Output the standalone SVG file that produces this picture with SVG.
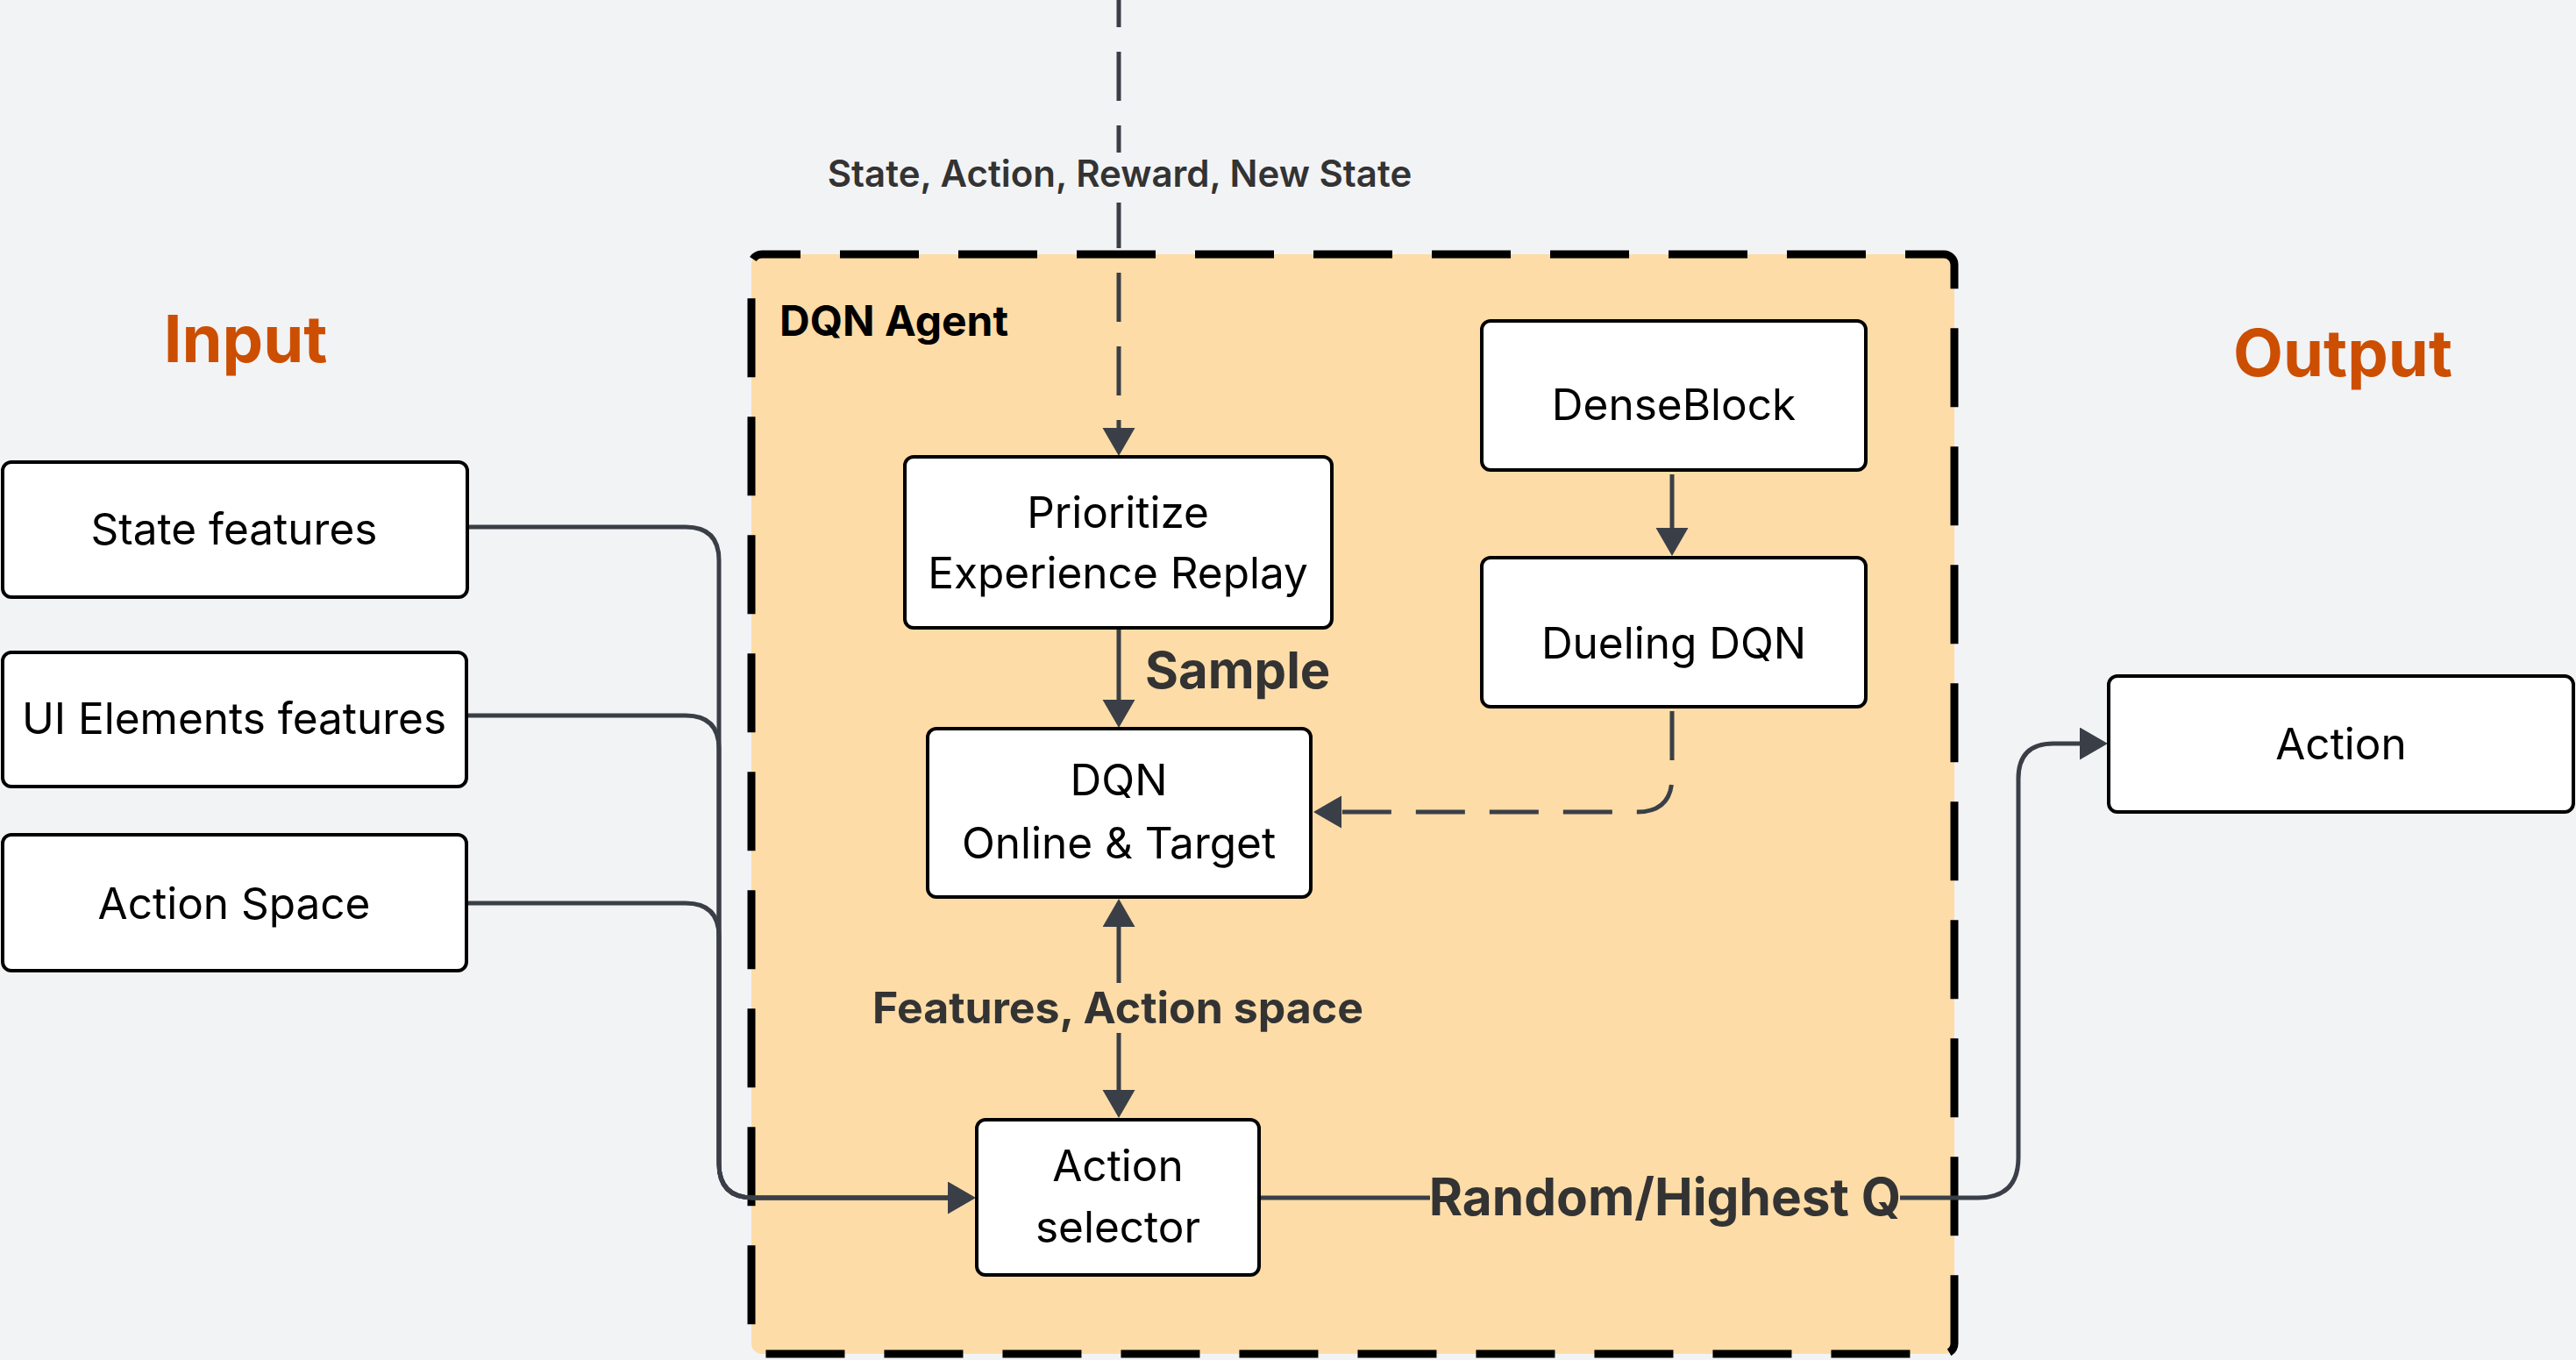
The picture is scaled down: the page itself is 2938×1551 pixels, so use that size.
<svg xmlns="http://www.w3.org/2000/svg" width="2938" height="1551" viewBox="0 0 2938 1551">
<style>
.node rect{fill:#ffffff;stroke:#000000;stroke-width:4}
.node text{font-family:Inter,"Noto Sans","Liberation Sans",sans-serif;font-size:49.5px;fill:#000;text-anchor:middle}
.conn{fill:none;stroke:#3a3f47;stroke-width:5}
.dash{stroke-dasharray:56 28}
.lbl{font-family:Inter,"Noto Sans","Liberation Sans",sans-serif;font-weight:700;fill:#333333}
.title{font-family:Inter,"Noto Sans","Liberation Sans",sans-serif;font-weight:700;font-size:74px;fill:#cc4e00;text-anchor:middle}
</style>
<defs>
<marker id="arr" markerUnits="userSpaceOnUse" markerWidth="33" markerHeight="38" refX="0" refY="18.5" orient="auto-start-reverse" viewBox="0 0 33 38">
<path d="M0 0 L32 18.5 L0 37 Z" fill="#3a3f47"/>
</marker>
</defs>
<rect x="0" y="0" width="2938" height="1551" fill="#f2f3f5"/>
<g id="dqn-agent">
<rect x="857" y="290" width="1372" height="1254" rx="12" fill="#fddca7" stroke="#000" stroke-width="9" stroke-dasharray="90 45" stroke-dashoffset="46"/>
<text x="889" y="383" font-family="Inter,'Noto Sans','Liberation Sans',sans-serif" font-weight="700" font-size="48" fill="#000">DQN Agent</text>
</g>
<g id="titles">
<text class="title" x="280" y="413">Input</text>
<text class="title" x="2672" y="429">Output</text>
</g>
<g id="connectors">
<path class="conn dash" d="M1276 -25 V488" marker-end="url(#arr)"/>
<rect x="925" y="174" width="704" height="57" fill="#f2f3f5"/>
<text class="lbl" x="1277" y="213" font-size="42" text-anchor="middle" style="font-weight:600">State, Action, Reward, New State</text>
<path class="conn" d="M1276 718 V798" marker-end="url(#arr)"/>
<text class="lbl" x="1306" y="785" font-size="58">Sample</text>
<path class="conn" d="M1907 541 V602" marker-end="url(#arr)"/>
<path class="conn dash" d="M1907 811 V886 Q1907 926 1867 926 H1530" marker-end="url(#arr)"/>
<path class="conn" d="M1276 1057 V1243" marker-start="url(#arr)" marker-end="url(#arr)"/>
<rect x="985" y="1121" width="582" height="57" fill="#fddca7"/>
<text class="lbl" x="1275" y="1167" font-size="50" text-anchor="middle">Features, Action space</text>
<path class="conn" d="M533 601 H782 Q820 601 820 639 V1327 Q820 1366 859 1366 H1081" marker-end="url(#arr)"/>
<path class="conn" d="M532 816 H782 Q820 816 820 854 V1327 Q820 1366 859 1366 H1081"/>
<path class="conn" d="M532 1030 H782 Q820 1030 820 1068 V1327 Q820 1366 859 1366 H1081"/>
<path class="conn" d="M1436 1366 H2256 Q2302 1366 2302 1320 V888 Q2302 848 2342 848 H2372" marker-end="url(#arr)"/>
<rect x="1631" y="1320" width="536" height="84" fill="#fddca7"/>
<text class="lbl" x="1899" y="1386" font-size="58.5" text-anchor="middle">Random/Highest Q</text>
</g>
<g id="state-features" class="node">
<rect x="3" y="527" width="530" height="154" rx="10"/>
<text x="267" y="621">State features</text>
</g>
<g id="ui-elements-features" class="node">
<rect x="3" y="744" width="529" height="153" rx="10"/>
<text x="267" y="837">UI Elements features</text>
</g>
<g id="action-space" class="node">
<rect x="3" y="952" width="529" height="155" rx="10"/>
<text x="267" y="1048">Action Space</text>
</g>
<g id="prioritize-experience-replay" class="node">
<rect x="1032" y="521" width="487" height="195" rx="10"/>
<text x="1275" y="602">Prioritize</text>
<text x="1275" y="671">Experience Replay</text>
</g>
<g id="dqn-online-target" class="node">
<rect x="1058" y="831" width="437" height="192" rx="10"/>
<text x="1276" y="907">DQN</text>
<text x="1276" y="979">Online &amp; Target</text>
</g>
<g id="action-selector" class="node">
<rect x="1114" y="1277" width="322" height="177" rx="10"/>
<text x="1275" y="1347">Action</text>
<text x="1275" y="1417">selector</text>
</g>
<g id="denseblock" class="node">
<rect x="1690" y="366" width="438" height="170" rx="10"/>
<text x="1909" y="479">DenseBlock</text>
</g>
<g id="dueling-dqn" class="node">
<rect x="1690" y="636" width="438" height="170" rx="10"/>
<text x="1909" y="751">Dueling DQN</text>
</g>
<g id="action" class="node">
<rect x="2405" y="771" width="530" height="155" rx="10"/>
<text x="2670" y="866">Action</text>
</g>
</svg>
